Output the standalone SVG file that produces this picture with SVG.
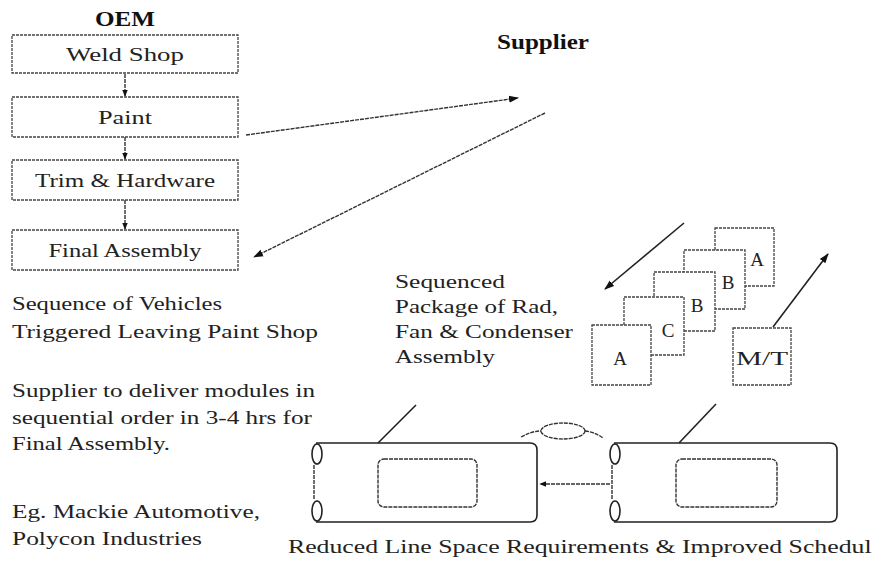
<svg xmlns="http://www.w3.org/2000/svg" width="872" height="561" viewBox="0 0 872 561">
<style>
.t{font-family:"Liberation Serif","Times New Roman",serif;font-size:19px;fill:#222}
.b{font-family:"Liberation Serif","Times New Roman",serif;font-size:20px;font-weight:bold;fill:#111}
.box{fill:#fff;stroke:#444;stroke-width:1.3;stroke-dasharray:3 1}
.ln{stroke:#222;stroke-width:1.6;fill:none}
.dl{stroke:#333;stroke-width:1.4;fill:none;stroke-dasharray:4 1}
.c{text-anchor:middle}
</style>
<defs>
<marker id="ah" viewBox="0 0 10 10" refX="9" refY="5" markerWidth="7" markerHeight="7" orient="auto" markerUnits="userSpaceOnUse">
<path d="M0,1 L10,5 L0,9 z" fill="#111"/>
</marker>
<marker id="ahL" viewBox="0 0 10 10" refX="9" refY="5" markerWidth="10" markerHeight="10" orient="auto" markerUnits="userSpaceOnUse">
<path d="M0,1.5 L10,5 L0,8.5 z" fill="#111"/>
</marker>
</defs>

<text class="b c" x="125" y="26" textLength="60" lengthAdjust="spacingAndGlyphs">OEM</text>
<text class="b" x="497" y="49" font-size="19" textLength="92" lengthAdjust="spacingAndGlyphs">Supplier</text>

<g id="connectors">
<line class="dl" x1="125" y1="74" x2="125" y2="96" marker-end="url(#ah)"/>
<line class="dl" x1="125" y1="137" x2="125" y2="159" marker-end="url(#ah)"/>
<line class="dl" x1="125" y1="200" x2="125" y2="229" marker-end="url(#ah)"/>
<line class="dl" x1="246" y1="135" x2="518" y2="98" marker-end="url(#ahL)"/>
<line class="dl" x1="545" y1="113" x2="254" y2="257" marker-end="url(#ahL)"/>
<line class="ln" x1="684" y1="223" x2="605" y2="289" marker-end="url(#ahL)"/>
<line class="ln" x1="773" y1="327" x2="828" y2="254" marker-end="url(#ahL)"/>
<line class="dl" x1="610" y1="484" x2="540" y2="484" marker-end="url(#ah)"/>
</g>

<g id="weld"><rect class="box" x="12" y="35" width="226" height="38"/><text class="t c" x="125" y="61" textLength="118" lengthAdjust="spacingAndGlyphs">Weld Shop</text></g>
<g id="paint"><rect class="box" x="12" y="97" width="226" height="40"/><text class="t c" x="125" y="124" textLength="54" lengthAdjust="spacingAndGlyphs">Paint</text></g>
<g id="trim"><rect class="box" x="12" y="160" width="226" height="40"/><text class="t c" x="125" y="187" textLength="180" lengthAdjust="spacingAndGlyphs">Trim &amp; Hardware</text></g>
<g id="final"><rect class="box" x="12" y="230" width="226" height="40"/><text class="t c" x="125" y="257" textLength="153" lengthAdjust="spacingAndGlyphs">Final Assembly</text></g>

<g id="notes">
<text class="t" x="12" y="310" textLength="210" lengthAdjust="spacingAndGlyphs">Sequence of Vehicles</text>
<text class="t" x="12" y="338" textLength="306" lengthAdjust="spacingAndGlyphs">Triggered Leaving Paint Shop</text>
<text class="t" x="12" y="397" textLength="303" lengthAdjust="spacingAndGlyphs">Supplier to deliver modules in</text>
<text class="t" x="12" y="424" textLength="300" lengthAdjust="spacingAndGlyphs">sequential order in 3-4 hrs for</text>
<text class="t" x="12" y="450" textLength="158" lengthAdjust="spacingAndGlyphs">Final Assembly.</text>
<text class="t" x="12" y="518" textLength="248" lengthAdjust="spacingAndGlyphs">Eg. Mackie Automotive,</text>
<text class="t" x="12" y="545" textLength="190" lengthAdjust="spacingAndGlyphs">Polycon Industries</text>
</g>

<g id="package-label">
<text class="t" x="395" y="288" textLength="110" lengthAdjust="spacingAndGlyphs">Sequenced</text>
<text class="t" x="395" y="313" textLength="163" lengthAdjust="spacingAndGlyphs">Package of Rad,</text>
<text class="t" x="395" y="338" textLength="178" lengthAdjust="spacingAndGlyphs">Fan &amp; Condenser</text>
<text class="t" x="395" y="363" textLength="100" lengthAdjust="spacingAndGlyphs">Assembly</text>
</g>

<g id="pkg-A2"><rect class="box" x="715" y="228" width="59" height="58"/><text class="t c" x="757" y="266" font-size="22">A</text></g>
<g id="pkg-B2"><rect class="box" x="684" y="250" width="61" height="59"/><text class="t c" x="728" y="289" font-size="22">B</text></g>
<g id="pkg-B1"><rect class="box" x="654" y="272" width="61" height="59"/><text class="t c" x="697" y="312" font-size="22">B</text></g>
<g id="pkg-C"><rect class="box" x="624" y="297" width="60" height="58"/><text class="t c" x="668" y="337" font-size="22">C</text></g>
<g id="pkg-A1"><rect class="box" x="592" y="325" width="59" height="60"/><text class="t c" x="620" y="365" font-size="22">A</text></g>
<g id="mt"><rect class="box" x="733" y="328" width="58" height="57"/><text class="t c" x="762" y="365" font-size="21" textLength="52" lengthAdjust="spacingAndGlyphs">M/T</text></g>

<g id="car-left">
<line class="ln" x1="378" y1="443" x2="416" y2="405"/>
<path class="ln" d="M316,443 H530 Q537,443 537,450 V515 Q537,522 530,522 H316" />
<path class="dl" d="M314,465 V500"/>
<ellipse class="ln" cx="317" cy="454" rx="5" ry="10"/>
<ellipse class="ln" cx="317" cy="511" rx="5" ry="10"/>
<rect class="dl" x="378" y="459" width="99" height="48" rx="6"/>
</g>

<g id="coupler">
<ellipse class="dl" cx="563" cy="431" rx="22" ry="8"/>
<path class="dl" d="M521,437 Q532,431 541,431 M585,431 Q595,432 603,438"/>
</g>

<g id="car-right">
<line class="ln" x1="679" y1="443" x2="716" y2="404"/>
<path class="ln" d="M614,443 H830 Q837,443 837,450 V515 Q837,522 830,522 H614" />
<path class="dl" d="M612,465 V500"/>
<ellipse class="ln" cx="615" cy="454" rx="5" ry="10"/>
<ellipse class="ln" cx="615" cy="511" rx="5" ry="10"/>
<rect class="dl" x="676" y="459" width="101" height="48" rx="6"/>
</g>

<text class="t" x="288" y="553" font-size="20" textLength="595" lengthAdjust="spacingAndGlyphs">Reduced Line Space Requirements &amp; Improved Schedule</text>
</svg>
